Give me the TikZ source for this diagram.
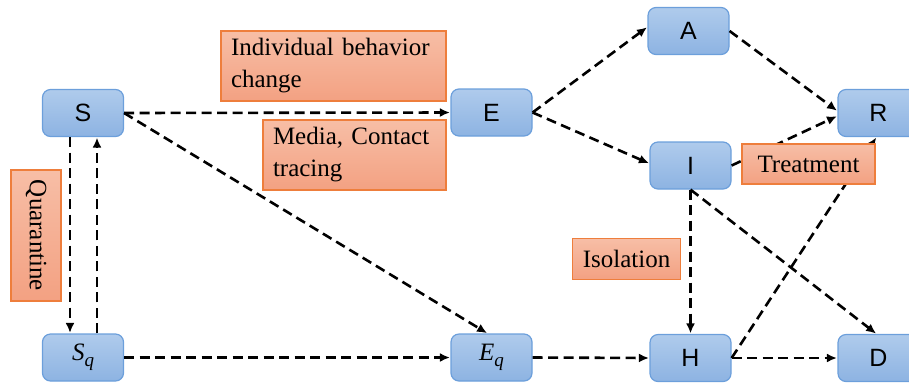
\documentclass[tikz,border=0pt]{standalone}
\usepackage{fontspec}
\setmainfont{Liberation Serif}
\newfontfamily\boxfont{Liberation Sans}
\newfontfamily\mathlike{Liberation Serif}
\usetikzlibrary{arrows.meta,calc}
\definecolor{bluetop}{HTML}{AFCBEC}
\definecolor{bluebot}{HTML}{8DB3E2}
\definecolor{blueedge}{HTML}{6C9FDB}
\definecolor{orangetop}{HTML}{F7BEA6}
\definecolor{orangebot}{HTML}{F3A182}
\definecolor{orangeedge}{HTML}{EE7E3C}
\newcommand{\subvar}[2]{{\fontsize{25}{28}\selectfont\mathlike\itshape #1\raisebox{-6pt}{\fontsize{19}{20}\selectfont\mathlike\itshape #2}}}
\tikzset{
  state/.style={draw=blueedge, line width=1.2pt, rounded corners=8pt,
    top color=bluetop, bottom color=bluebot,
    minimum width=81pt, minimum height=47pt, inner sep=0pt,
    font=\fontsize{25}{28}\selectfont\boxfont},
  note/.style={draw=orangeedge, line width=1.2pt,
    top color=orangetop, bottom color=orangebot,
    inner sep=0pt, font=\fontsize{25}{32}\selectfont},
  flow/.style={line width=2.6pt, dash pattern=on 10pt off 5.5pt,
    -{Latex[length=10pt,width=9pt]}, shorten >=0.5pt}
}
\begin{document}
\begin{tikzpicture}[x=1pt,y=-1pt]
\useasboundingbox (0,0) rectangle (909,384);
% state nodes
\node[state] (S)  at (83,113) {S};
\node[state] (Sq) at (83,357.5) {\subvar{S}{q}};
\node[state] (E)  at (491.5,112.5) {E};
\node[state] (Eq) at (491.5,357.5) {\subvar{E}{q}};
\node[state] (A)  at (688.5,31) {A};
\node[state] (I)  at (690.5,165.5) {I};
\node[state] (R)  at (878.5,113) {R};
\node[state] (H)  at (690.5,358) {H};
\node[state] (D)  at (878.5,358) {D};
% connectors
\draw[flow] (S.east) -- (E.west);
\draw[flow] (S.east) -- ($(Eq.north)+(-4,0)$);
\draw[flow] ($(S.south)+(-13,0)$) -- ($(Sq.north)+(-13,0)$);
\draw[flow] ($(Sq.north)+(14,0)$) -- ($(S.south)+(14,0)$);
\draw[flow] (Sq.east) -- (Eq.west);
\draw[flow] (Eq.east) -- (H.west);
\draw[flow] (E.east) -- ($(A.west)+(0,-4)$);
\draw[flow] (E.east) -- ($(I.west)+(0,-2)$);
\draw[flow] (A.east) -- ($(R.west)+(0,-2)$);
\draw[flow] (I.east) -- ($(R.west)+(0,3)$);
\draw[flow] (I.south) -- (H.north);
\draw[flow] (I.south) -- ($(D.north)+(-2,0)$);
\draw[flow] (H.east) -- ($(R.south)+(-2,0)$);
\draw[flow] (H.east) -- (D.west);
% labels
\node[note, minimum width=225pt, minimum height=70pt, text width=205pt, align=left]
  (ibc) at (333.5,66) {Individual behavior\\change};
\node[note, minimum width=183pt, minimum height=70pt, text width=163pt, align=left]
  (mct) at (354.5,155) {Media, Contact\\tracing};
\node[note, minimum width=50pt, minimum height=131pt]
  (qua) at (36,235.5) {\rotatebox{-90}{Quarantine}};
\node[note, minimum width=133pt, minimum height=40pt]
  (trt) at (808.5,164) {Treatment};
\node[note, minimum width=108pt, minimum height=41pt]
  (iso) at (626.5,259) {Isolation};
\end{tikzpicture}
\end{document}
